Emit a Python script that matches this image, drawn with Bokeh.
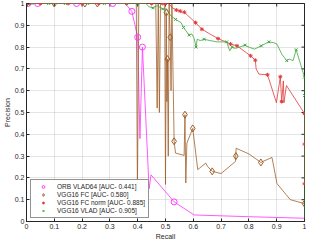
import math
from bokeh.plotting import figure
from bokeh.models import Legend, LegendItem, FixedTicker, Range1d
from bokeh.embed import file_html
from bokeh.resources import INLINE

# ---------------- data ----------------
ticks = [0, 0.1, 0.2, 0.3, 0.4, 0.5, 0.6, 0.7, 0.8, 0.9, 1]
tick_labels = ["0", "0.1", "0.2", "0.3", "0.4", "0.5", "0.6", "0.7", "0.8", "0.9", "1"]

labels = ["ORB VLAD64 [AUC- 0.441]", "VGG16 FC [AUC- 0.580]",
          "VGG16 FC norm [AUC- 0.885]", "VGG16 VLAD [AUC- 0.905]"]

# ORB VLAD64 (magenta)
mag_r = [0, 0.005, 0.04, 0.18, 0.31, 0.355, 0.379, 0.40, 0.408, 0.417, 0.441, 0.448, 0.531, 0.603, 0.80, 1.0]
mag_p = [1, 1, 1, 1, 1, 1, 0.964, 0.845, 0.38, 0.80, 0.15, 0.214, 0.09, 0.03, 0.022, 0.015]
mag_mr = [0.005, 0.04, 0.18, 0.31, 0.379, 0.40, 0.417, 0.531]
mag_mp = [1, 1, 1, 1, 0.964, 0.845, 0.80, 0.09]

# VGG16 FC (brown)
br_r = [0, 0.1, 0.21, 0.255, 0.395, 0.399, 0.404, 0.465, 0.470, 0.474, 0.478, 0.482, 0.497, 0.500,
        0.503, 0.505, 0.507, 0.510, 0.513, 0.517, 0.520, 0.523, 0.531, 0.536, 0.567, 0.570, 0.573,
        0.577, 0.598, 0.616, 0.645, 0.651, 0.668, 0.70, 0.752, 0.754, 0.80, 0.843, 0.883, 0.901,
        0.949, 1.0]
br_p = [1, 1, 1, 1, 1, 0.14, 1, 1, 0.52, 1, 0.50, 1, 1, 0.17,
        0.958, 0.55, 0.745, 0.30, 1.0, 0.845, 0.60, 1.0, 0.368, 0.314, 0.303, 0.49, 0.177,
        0.36, 0.427, 0.238, 0.268, 0.253, 0.23, 0.22, 0.276, 0.336, 0.31, 0.271, 0.294, 0.174,
        0.10, 0.082]
br_mr = [0, 0.1, 0.21, 0.255, 0.503, 0.507, 0.517, 0.531, 0.570, 0.598, 0.668, 0.753, 0.843, 1.0]
br_mp = [1, 1, 1, 1, 0.958, 0.745, 0.845, 0.368, 0.49, 0.427, 0.23, 0.30, 0.271, 0.082]

# VGG16 FC norm (red)
red_r = [0, 0.01, 0.05, 0.15, 0.2, 0.26, 0.36, 0.45, 0.49, 0.512, 0.525, 0.539, 0.553, 0.56, 0.568,
         0.58, 0.608, 0.631, 0.66, 0.689, 0.734, 0.757, 0.806, 0.823, 0.826, 0.836, 0.867, 0.899,
         0.913, 0.918, 0.924, 0.926, 0.935, 1.0, 1.0, 1.0]
red_p = [1, 1, 1, 1, 1, 1, 1, 1, 1, 1, 0.98, 0.97, 0.965, 0.96, 0.96,
         0.945, 0.912, 0.882, 0.86, 0.839, 0.814, 0.806, 0.76, 0.74, 0.70, 0.676, 0.673, 0.545,
         0.664, 0.55, 0.645, 0.545, 0.624, 0.495, 0.355, 0.173]
red_mr = [0, 0.01, 0.05, 0.15, 0.2, 0.26, 0.36, 0.45, 0.49, 0.5, 0.539, 0.553, 0.568, 0.608, 0.631,
          0.689, 0.734, 0.757, 0.806, 0.823, 0.867, 0.913, 0.918, 1.0, 1.0, 1.0]
red_mp = [1, 1, 1, 1, 1, 1, 1, 1, 1, 1, 0.97, 0.965, 0.96, 0.912, 0.882,
          0.839, 0.814, 0.806, 0.76, 0.74, 0.673, 0.664, 0.55, 0.495, 0.355, 0.173]

# VGG16 VLAD (green)
gr_r = [0, 0.43, 0.44, 0.455, 0.47, 0.49, 0.505, 0.518, 0.536, 0.556, 0.565, 0.574, 0.585, 0.595,
        0.603, 0.61, 0.614, 0.625, 0.639, 0.66, 0.685, 0.72, 0.731, 0.74, 0.752, 0.786, 0.803,
        0.821, 0.844, 0.872, 0.89, 0.901, 0.918, 0.936, 0.945, 0.959, 0.97, 1.0, 1.0, 1.0]
gr_p = [1, 1, 0.985, 0.98, 0.99, 0.975, 0.975, 0.945, 0.927, 0.912, 0.89, 0.874, 0.855, 0.86,
        0.84, 0.80, 0.836, 0.83, 0.836, 0.83, 0.824, 0.824, 0.783, 0.80, 0.794, 0.809, 0.798,
        0.791, 0.806, 0.824, 0.82, 0.814, 0.768, 0.738, 0.745, 0.738, 0.788, 0.662, 0.578, 0.0]
gr_mr = [0, 0.02, 0.08, 0.14, 0.22, 0.28, 0.36, 0.40, 0.455, 0.49, 0.536, 0.565, 0.585, 0.61,
         0.639, 0.72, 0.74, 0.786, 0.844, 0.872, 0.936, 0.97, 1.0, 1.0]
gr_mp = [1, 1, 1, 1, 1, 1, 1, 1, 0.98, 0.975, 0.927, 0.89, 0.855, 0.80,
         0.836, 0.824, 0.80, 0.809, 0.806, 0.824, 0.738, 0.788, 0.662, 0.578]

# ---------------- styling ----------------
FONT = "Liberation Sans"
AX = "#262626"
C_MAG = "#ff3dff"
C_BR = "#a0602a"
C_RED = "#e23b3b"
C_GR = "#3fa83f"

p = figure(width=306, height=242, output_backend="svg", toolbar_location=None,
           x_range=Range1d(0, 1), y_range=Range1d(0, 1),
           min_border_left=0, min_border_right=2, min_border_top=3, min_border_bottom=0)

p.background_fill_color = "white"
p.outline_line_color = AX
p.outline_line_width = 1

for ax in (p.xaxis[0], p.yaxis[0]):
    ax.ticker = FixedTicker(ticks=ticks)
    ax.major_label_overrides = {t: l for t, l in zip(ticks, tick_labels)}
    ax.major_tick_in = 3
    ax.major_tick_out = 0
    ax.minor_tick_line_color = None
    ax.axis_line_color = AX
    ax.major_tick_line_color = AX
    ax.major_label_text_font = FONT
    ax.major_label_text_font_size = "7px"
    ax.major_label_text_color = AX
    ax.major_label_standoff = 2
    ax.axis_label_text_font = FONT
    ax.axis_label_text_font_size = "7px"
    ax.axis_label_text_font_style = "normal"
    ax.axis_label_text_color = AX
    ax.axis_label_standoff = 1

p.xaxis.axis_label = "Recall"
p.yaxis.axis_label = "Precision"

p.xgrid.ticker = FixedTicker(ticks=ticks)
p.ygrid.ticker = FixedTicker(ticks=ticks)
p.grid.grid_line_color = AX
p.grid.grid_line_alpha = 0.12

# inner tick marks on the top and right edges of the box (clipped to the frame)
p.scatter(ticks, [1] * len(ticks), marker="dash", angle=math.pi / 2, size=6,
          line_color=AX, line_width=1)
p.scatter([1] * len(ticks), ticks, marker="dash", size=6, line_color=AX, line_width=1)

# lines
p.line(mag_r, mag_p, line_color=C_MAG, line_width=1, line_alpha=0.85)
p.line(br_r, br_p, line_color=C_BR, line_width=1, line_alpha=0.8)
p.line(red_r, red_p, line_color=C_RED, line_width=1, line_alpha=0.8)
p.line(gr_r, gr_p, line_color=C_GR, line_width=1, line_alpha=0.8)

# markers
m_mag = p.scatter(mag_mr, mag_mp, marker="circle", size=6, line_color=C_MAG, fill_color=None, line_width=1)
m_br = p.scatter(br_mr, br_mp, marker="diamond", size=7, line_color=C_BR, fill_color=None, line_width=1)
m_red = p.scatter(red_mr, red_mp, marker="asterisk", size=4, line_color=C_RED, line_width=1)
m_gr = p.scatter(gr_mr, gr_mp, marker="x", size=4, line_color=C_GR, line_width=1)

legend = Legend(items=[LegendItem(label=labels[0], renderers=[m_mag]),
                       LegendItem(label=labels[1], renderers=[m_br]),
                       LegendItem(label=labels[2], renderers=[m_red]),
                       LegendItem(label=labels[3], renderers=[m_gr])],
                location=(4, 3))
legend.border_line_color = AX
legend.border_line_width = 1
legend.background_fill_color = "white"
legend.background_fill_alpha = 1
legend.label_text_font = FONT
legend.label_text_font_size = "6.5px"
legend.label_text_color = AX
legend.glyph_width = 18
legend.glyph_height = 7
legend.label_height = 7
legend.spacing = 1
legend.padding = 3
legend.margin = 0
legend.label_standoff = 5
p.add_layout(legend)

open("out.html", "w").write(file_html(p, INLINE))
